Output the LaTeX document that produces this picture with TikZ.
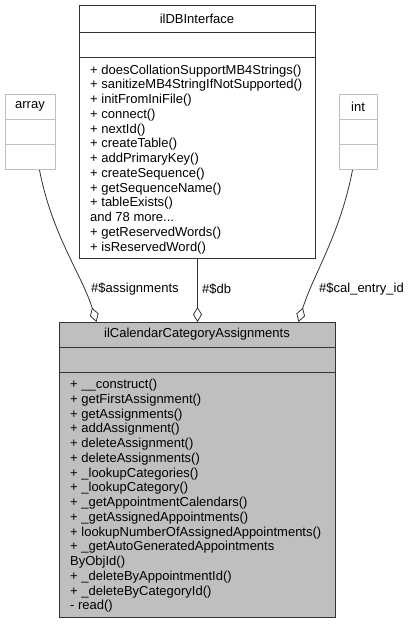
\documentclass[tikz,border=0pt]{standalone}
\usepackage{fontspec}
\setmainfont{Liberation Sans}
\usetikzlibrary{arrows.meta}
\begin{document}
\begin{tikzpicture}[x=1pt,y=-1pt,
  classbox/.style={draw=black!80, line width=1pt, inner sep=0pt, minimum width=#1, anchor=north west},
  lightbox/.style={draw=black!25, line width=1pt, inner sep=0pt, minimum width=#1, anchor=north west},
  sep/.style={line width=1pt},
  txt/.style={font=\fontsize{13}{14.75}\selectfont, inner sep=0pt, align=left, anchor=north west},
  ttl/.style={font=\fontsize{13}{14.75}\selectfont, inner sep=0pt},
  lbl/.style={font=\fontsize{13}{14.75}\selectfont, inner sep=0pt, anchor=west},
  agg/.style={draw=black!80, line width=0.8pt, -{Diamond[open,length=15pt,width=9pt]}}
]
\useasboundingbox (0,0) rectangle (409,624);
% ilDBInterface
\node[classbox=236, minimum height=253] (db) at (79,5) {};
\draw[sep, draw=black!80] (79,32) -- (315,32) (79,57) -- (315,57);
\node[ttl] (dbt) at (197,18.5) {ilDBInterface};
\node[txt] (dbm) at (90,64.5) {+ doesCollationSupportMB4Strings()\\+ sanitizeMB4StringIfNotSupported()\\+ initFromIniFile()\\+ connect()\\+ nextId()\\+ createTable()\\+ addPrimaryKey()\\+ createSequence()\\+ getSequenceName()\\+ tableExists()\\and 78 more...\\+ getReservedWords()\\+ isReservedWord()};
% array
\node[lightbox=50, minimum height=75] (arr) at (5,94) {};
\draw[sep, draw=black!25] (5,119) -- (55,119) (5,144) -- (55,144);
\node[ttl] (arrt) at (30,106.5) {array};
% int
\node[lightbox=38, minimum height=75] (int) at (339,94) {};
\draw[sep, draw=black!25] (339,119) -- (377,119) (339,144) -- (377,144);
\node[ttl] (intt) at (358,106.5) {int};
% main class
\node[classbox=276, minimum height=295, fill=black!25] (main) at (59,322) {};
\draw[sep, draw=black!80] (59,347) -- (335,347) (59,372) -- (335,372);
\node[ttl] (maint) at (197,334.5) {ilCalendarCategoryAssignments};
\node[txt] (mainm) at (70,379) {+ \_\_construct()\\+ getFirstAssignment()\\+ getAssignments()\\+ addAssignment()\\+ deleteAssignment()\\+ deleteAssignments()\\+ \_lookupCategories()\\+ \_lookupCategory()\\+ \_getAppointmentCalendars()\\+ \_getAssignedAppointments()\\+ lookupNumberOfAssignedAppointments()\\+ \_getAutoGeneratedAppointments\\ByObjId()\\+ \_deleteByAppointmentId()\\+ \_deleteByCategoryId()\\- read()};
% connectors
\draw[agg] ([xshift=9pt]arr.south) .. controls (52,235) and (82,275) .. ([xshift=-101pt]main.north);
\draw[agg] (db.south) -- (main.north);
\draw[agg] ([xshift=-6pt]int.south) .. controls (340,235) and (313,275) .. ([xshift=101pt]main.north);
% labels
\node[lbl] (la) at (91,289) {\#\$assignments};
\node[lbl] (ld) at (202,289) {\#\$db};
\node[lbl] (lc) at (319,289) {\#\$cal\_entry\_id};
\end{tikzpicture}
\end{document}
